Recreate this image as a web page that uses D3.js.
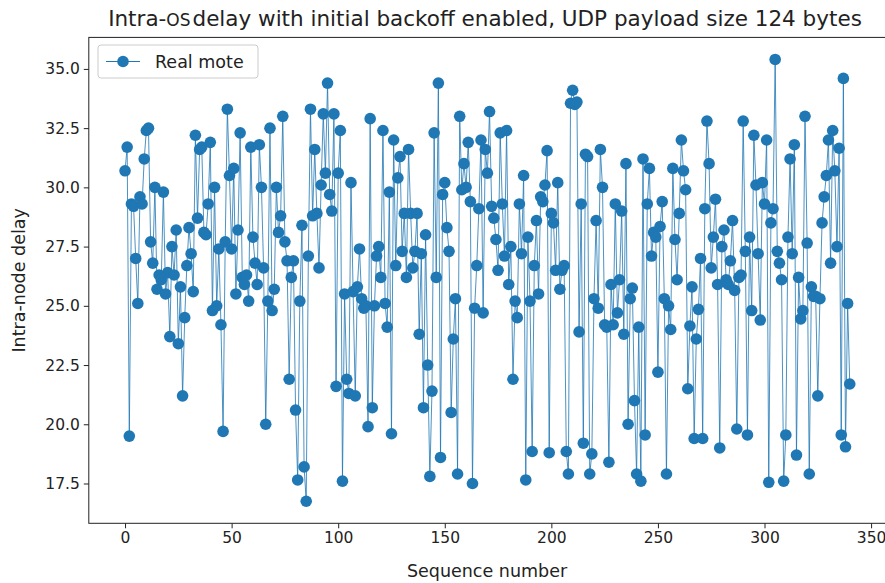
<!DOCTYPE html>
<html><head><meta charset="utf-8">
<script src="https://cdn.jsdelivr.net/npm/d3@7"></script>
<style>body{margin:0;background:#fff}svg{display:block}text{font-family:"DejaVu Sans",sans-serif}</style>
</head><body><svg id="c" width="885" height="583"></svg>
<script>
const titleParts = ["Intra-", "OS", "delay with initial backoff enabled, UDP payload size 124 bytes"];
const xLabel = "Sequence number";
const yLabel = "Intra-node delay";
const seriesName = "Real mote";
const xTicks = [0, 50, 100, 150, 200, 250, 300, 350];
const yTicks = [17.5, 20.0, 22.5, 25.0, 27.5, 30.0, 32.5, 35.0];
const delay = [
30.7,31.7,19.5,29.3,29.2,27.0,25.1,29.6,29.3,31.2,
32.4,32.5,27.7,26.8,30.0,25.7,26.3,26.1,29.8,25.5,
26.4,23.7,27.5,26.3,28.2,23.4,25.8,21.2,24.5,26.7,
28.3,27.2,25.6,32.2,28.7,31.6,31.7,
28.1,28.0,29.3,31.9,24.8,30.0,25.0,27.4,24.2,19.7,
27.7,33.3,30.5,27.4,30.8,25.5,28.2,32.3,26.2,25.9,
26.3,25.2,31.7,27.9,26.8,25.9,31.8,30.0,26.6,20.0,
25.2,32.5,24.8,25.7,30.0,28.1,28.8,33.0,27.7,26.9,
21.9,26.2,26.9,20.6,17.65,25.2,28.4,18.2,16.75,27.1,
33.3,28.8,31.6,28.9,26.6,30.1,33.1,30.6,34.4,29.7,
29.0,33.1,21.6,30.6,32.4,17.6,25.5,21.9,
21.3,30.2,25.6,21.2,25.8,27.4,25.3,24.9,25.0,19.9,
32.9,20.7,25.0,27.1,27.5,26.2,32.4,25.1,24.1,29.8,
19.6,32.0,26.7,30.4,31.3,27.3,28.9,26.2,31.6,28.9,
26.6,27.3,28.9,23.8,27.2,20.7,28.0,22.5,17.8,21.4,
32.3,26.2,34.4,18.6,29.7,30.2,28.3,27.3,20.5,23.6,
25.3,17.9,33.0,29.9,31.0,30.0,31.9,29.4,17.5,24.9,
26.7,29.1,32.0,24.7,31.6,30.6,33.2,29.2,28.7,27.8,
26.5,32.3,29.3,27.1,32.4,25.9,27.5,21.9,25.2,24.5,
29.3,27.2,30.5,17.65,27.9,25.2,18.85,26.7,28.6,25.5,
29.6,29.4,30.1,31.55,18.8,28.9,28.5,26.5,30.2,25.7,
26.5,26.7,18.85,17.9,33.55,34.1,33.5,33.6,23.9,29.3,
19.2,31.4,31.3,17.9,18.75,25.3,28.6,24.9,31.6,30.0,
24.2,24.1,18.4,25.9,24.2,29.3,24.7,26.1,29.0,23.8,
31.0,20.0,25.3,25.75,21.0,17.9,24.1,17.6,31.2,19.55,
29.3,30.8,27.1,28.1,27.9,22.2,28.35,29.4,25.3,17.9,
25.0,24.0,30.8,27.8,26.1,28.9,32.0,30.7,29.9,21.5,
24.15,25.8,19.4,23.6,24.85,27.0,19.4,29.1,32.8,31.0,
26.6,27.9,29.5,25.9,19.0,27.5,28.2,26.1,25.9,26.9,
28.6,25.65,19.8,26.2,26.3,32.8,27.3,19.55,27.9,24.8,
32.2,30.1,27.2,24.4,30.2,29.3,32.0,17.55,28.5,29.1,
35.4,27.3,26.8,26.1,17.6,19.55,27.9,31.2,27.2,31.8,
18.7,26.2,24.45,24.8,33.0,27.65,17.9,25.8,25.4,25.4,
21.2,25.3,28.5,29.6,30.5,32.0,26.8,32.4,30.7,27.5,
31.65,19.55,34.6,19.05,25.1,21.7
];
const seq = delay.map((_, i) => i);

const svg = d3.select("#c");
const L = 88.8, R = 886, T = 37.4, B = 523.3;
const color = "#1f77b4";

const x = d3.scaleLinear().domain([-17, 357]).range([L, R]);
const y = d3.scaleLinear().domain([15.82, 36.33]).range([B, T]);

// axes
const fs = 15.5, lfs = 17.5;
const xAxis = svg.append("g").attr("transform", `translate(0,${B})`)
  .call(d3.axisBottom(x).tickValues(xTicks).tickSize(5).tickPadding(4).tickFormat(d3.format("d")));
const yAxis = svg.append("g").attr("transform", `translate(${L},0)`)
  .call(d3.axisLeft(y).tickValues(yTicks).tickSize(5).tickPadding(4).tickFormat(d3.format(".1f")));
[xAxis, yAxis].forEach(g => {
  g.select(".domain").remove();
  g.selectAll("text").attr("font-size", fs).attr("font-family", "DejaVu Sans").attr("fill", "#222");
  g.selectAll("line").attr("stroke", "#222").attr("stroke-width", 1);
});

// frame
svg.append("rect").attr("x", L).attr("y", T).attr("width", R - L).attr("height", B - T)
  .attr("fill", "none").attr("stroke", "#222").attr("stroke-width", 1);

// data
svg.append("clipPath").attr("id", "clp").append("rect")
  .attr("x", L).attr("y", T).attr("width", R - L).attr("height", B - T);
const g = svg.append("g").attr("clip-path", "url(#clp)");
g.append("path").datum(delay)
  .attr("d", d3.line().x((d, i) => x(seq[i])).y(d => y(d)))
  .attr("fill", "none").attr("stroke", color).attr("stroke-width", 1).attr("stroke-opacity", 0.8);
g.selectAll("circle").data(delay).join("circle")
  .attr("cx", (d, i) => x(seq[i])).attr("cy", d => y(d)).attr("r", 5.8).attr("fill", color);

// title
const tt = svg.append("text").attr("x", 485).attr("y", 26).attr("text-anchor", "middle")
  .attr("font-size", 21.5).attr("fill", "#222");
tt.append("tspan").text(titleParts[0]);
tt.append("tspan").attr("font-size", 17).text(titleParts[1]);
tt.append("tspan").attr("dx", 2).text(titleParts[2]);

// axis labels
svg.append("text").attr("x", 487).attr("y", 577).attr("text-anchor", "middle")
  .attr("font-size", lfs).attr("fill", "#222").text(xLabel);
svg.append("text").attr("transform", `translate(25,${(T + B) / 2}) rotate(-90)`).attr("text-anchor", "middle")
  .attr("font-size", lfs).attr("fill", "#222").text(yLabel);

// legend
const lg = svg.append("g");
lg.append("rect").attr("x", 98).attr("y", 45).attr("width", 160).attr("height", 33).attr("rx", 3)
  .attr("fill", "#fff").attr("fill-opacity", 0.8).attr("stroke", "#ccc");
lg.append("line").attr("x1", 106).attr("x2", 140).attr("y1", 61.5).attr("y2", 61.5)
  .attr("stroke", color).attr("stroke-width", 1);
lg.append("circle").attr("cx", 123).attr("cy", 61.5).attr("r", 5.8).attr("fill", color);
lg.append("text").attr("x", 155).attr("y", 68).attr("font-size", lfs).attr("fill", "#222").text(seriesName);
</script></body></html>
